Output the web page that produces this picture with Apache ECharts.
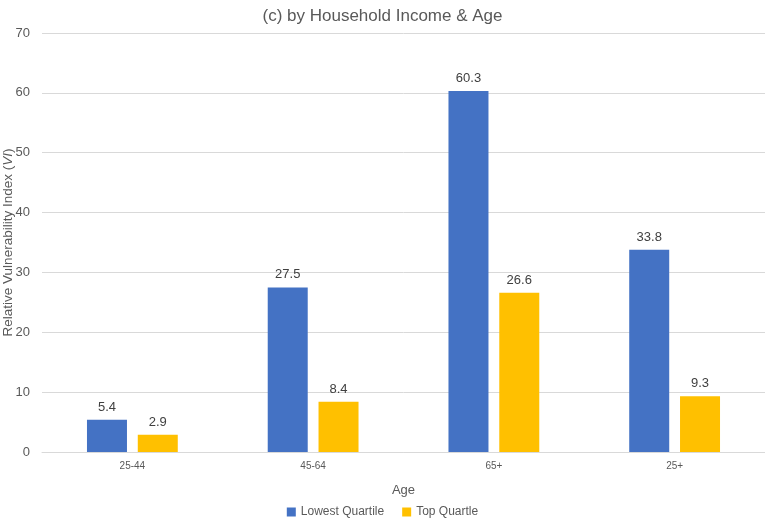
<!DOCTYPE html>
<html><head><meta charset="utf-8">
<script src="https://cdn.jsdelivr.net/npm/echarts@6/dist/echarts.min.js"></script>
<style>html,body{margin:0;padding:0;background:#fff}#c{width:765px;height:524px}</style>
</head><body><div id="c"></div>
<script>
const categories = ['25-44', '45-64', '65+', '25+'];
const lowestQuartile = [5.4, 27.5, 60.3, 33.8];
const topQuartile = [2.9, 8.4, 26.6, 9.3];
const seriesNames = ['Lowest Quartile', 'Top Quartle'];

const FONT = 'Liberation Sans';
const chart = echarts.init(document.getElementById('c'));
chart.setOption({
  animation: false,
  textStyle: { fontFamily: FONT },
  title: {
    text: '(c) by Household Income & Age', left: 'center', top: 3,
    textStyle: { fontFamily: FONT, fontSize: 17, fontWeight: 'normal', color: '#595959' }
  },
  legend: {
    bottom: 1, left: 'center', itemWidth: 9, itemHeight: 9, itemGap: 18,
    icon: 'rect',
    textStyle: { fontFamily: FONT, fontSize: 12, color: '#595959' },
    data: seriesNames
  },
  grid: { left: 42, right: 0, top: 33, bottom: 72, containLabel: false, outerBoundsMode: 'none' },
  xAxis: {
    type: 'category', data: categories,
    name: 'Age', nameLocation: 'middle', nameGap: 32,
    nameTextStyle: { fontFamily: FONT, fontSize: 13, color: '#595959' },
    axisLine: { lineStyle: { color: '#d9d9d9' } },
    axisTick: { show: false },
    axisLabel: { fontSize: 10, color: '#595959', margin: 9 }
  },
  yAxis: {
    type: 'value', min: 0, max: 70, interval: 10,
    name: '{a|Relative Vulnerability Index (}{b|VI}{a|)}',
    nameLocation: 'middle', nameGap: 27, nameRotate: 90, nameMoveOverlap: false,
    nameTextStyle: {
      rich: {
        a: { fontFamily: FONT, fontSize: 13.5, color: '#595959' },
        b: { fontFamily: FONT, fontSize: 13.5, color: '#595959', fontStyle: 'italic' }
      }
    },
    axisLine: { show: false }, axisTick: { show: false },
    axisLabel: { fontSize: 13, color: '#595959', margin: 12 },
    splitLine: { lineStyle: { color: '#d9d9d9' } }
  },
  series: [
    {
      name: seriesNames[0], type: 'bar', data: lowestQuartile,
      barWidth: 40, barGap: '27%',
      itemStyle: { color: '#4472C4' },
      label: { show: true, position: 'top', fontSize: 13, color: '#404040', distance: 6 }
    },
    {
      name: seriesNames[1], type: 'bar', data: topQuartile,
      barWidth: 40,
      itemStyle: { color: '#FFC000' },
      label: { show: true, position: 'top', fontSize: 13, color: '#404040', distance: 6 }
    }
  ]
});
</script></body></html>
